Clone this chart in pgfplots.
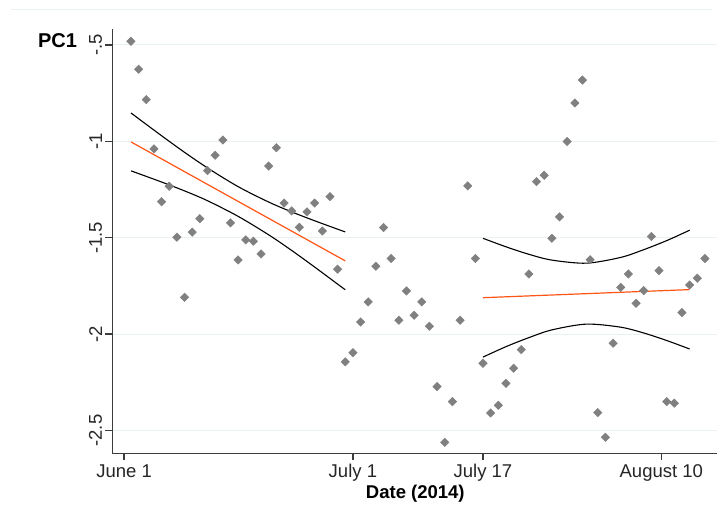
\documentclass[border=0pt]{standalone}
\usepackage{pgfplots}
\pgfplotsset{compat=1.18}
\usepackage{fontspec}
\setmainfont{Liberation Sans}
\definecolor{gridc}{RGB}{234,241,243}
\definecolor{axc}{RGB}{60,60,60}
\definecolor{markc}{RGB}{128,128,128}
\definecolor{fitc}{RGB}{255,85,20}
\begin{document}
\begin{tikzpicture}[x=1pt,y=1pt]
\path[use as bounding box] (0,0) rectangle (723,531);
\fill[white] (0,0) rectangle (723,531);
\draw[gridc, line width=0.8pt] (11,521.7) -- (712,521.7);
\begin{axis}[
  at={(112.3pt,77.7pt)}, anchor=south west,
  scale only axis, width=604.4pt, height=424pt,
  xmin=-1.44, xmax=77.54, ymin=-2.618, ymax=-0.419,
  axis x line*=bottom, axis y line*=left,
  axis line style={axc, line width=1.3pt, -},
  tick align=outside, major tick length=7pt,
  tick style={axc, line width=1.3pt},
  xtick={0.1,30,47,70.3},
  xticklabels={June 1, July 1, July 17, August 10},
  ytick={-2.5,-2,-1.5,-1,-0.5},
  yticklabels={-2.5,-2,-1.5,-1,-.5},
  tick label style={font=\fontsize{18.5}{21}\selectfont, text=black!85},
  yticklabel style={rotate=90, anchor=south, inner sep=3pt},
  xticklabel style={anchor=north, inner sep=4pt},
  ymajorgrids, major grid style={gridc, line width=1pt},
  clip=false,
]
\addplot[only marks, mark=square*, mark size=3.0pt,
  mark options={rotate=45, fill=markc, draw=markc}] coordinates {
(1,-0.481) (2,-0.626) (3,-0.784) (4,-1.039) (5,-1.313) (6,-1.233)
(7,-1.497) (8,-1.809) (9,-1.471) (10,-1.401) (11,-1.152) (12,-1.072)
(13,-0.993) (14,-1.423) (15,-1.615) (16,-1.511) (17,-1.518) (18,-1.584)
(19,-1.128) (20,-1.033) (21,-1.320) (22,-1.361) (23,-1.446) (24,-1.366)
(25,-1.320) (26,-1.465) (27,-1.287) (28,-1.663) (29,-2.144) (30,-2.096)
(31,-1.937) (32,-1.833) (33,-1.648) (34,-1.447) (35,-1.608) (36,-1.928)
(37,-1.776) (38,-1.902) (39,-1.833) (40,-1.959) (41,-2.272) (42,-2.561)
(43,-2.350) (44,-1.928) (45,-1.231) (46,-1.608) (47,-2.151) (48,-2.409)
(49,-2.369) (50,-2.255) (51,-2.177) (52,-2.080) (53,-1.688) (54,-1.209)
(55,-1.176) (56,-1.503) (57,-1.392) (58,-1.001) (59,-0.801) (60,-0.682)
(61,-1.614) (62,-2.407) (63,-2.535) (64,-2.047) (65,-1.757) (66,-1.688)
(67,-1.840) (68,-1.774) (69,-1.494) (70,-1.671) (71,-2.350) (72,-2.358)
(73,-1.888) (74,-1.745) (75,-1.710) (76,-1.608)
};
% segment 1 confidence limits
\addplot[black, line width=1.1pt, smooth] coordinates {
(1,-0.853) (5,-0.971) (8,-1.057) (11,-1.138) (15,-1.235) (19,-1.315) (22,-1.366) (25,-1.412) (29,-1.470)};
\addplot[black, line width=1.1pt, smooth] coordinates {
(1,-1.153) (5,-1.211) (8,-1.257) (11,-1.308) (15,-1.389) (19,-1.485) (22,-1.566) (25,-1.652) (29,-1.770)};
\addplot[fitc, line width=1.2pt] coordinates {(1,-1.003) (29,-1.620)};
% segment 2 confidence limits
\addplot[black, line width=1.1pt, smooth] coordinates {
(47,-1.503) (50,-1.547) (53,-1.586) (56,-1.616) (60.5,-1.632) (65,-1.602) (68,-1.562) (71,-1.515) (74,-1.461)};
\addplot[black, line width=1.1pt, smooth] coordinates {
(47,-2.119) (50,-2.065) (53,-2.018) (56,-1.978) (60.5,-1.948) (65,-1.964) (68,-1.994) (71,-2.033) (74,-2.077)};
\addplot[fitc, line width=1.2pt] coordinates {(47,-1.811) (74,-1.769)};
\end{axis}
\node[anchor=base, font=\bfseries\fontsize{20}{22}\selectfont] at (57.5,483) {PC1};
\node[font=\bfseries\fontsize{18.5}{20}\selectfont] at (415.3,37) {Date (2014)};
\end{tikzpicture}
\end{document}
